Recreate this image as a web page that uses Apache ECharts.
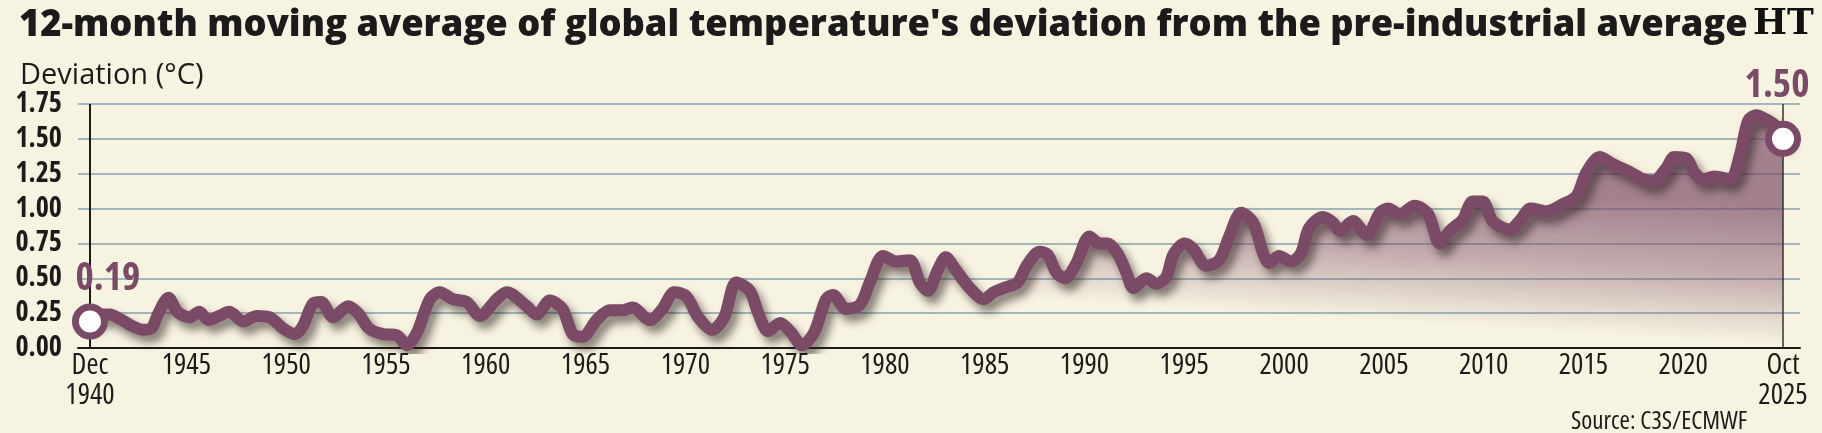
<!DOCTYPE html>
<html>
<head>
<meta charset="utf-8">
<title>Global temperature deviation</title>
<script src="https://cdn.jsdelivr.net/npm/echarts@6/dist/echarts.min.js"></script>
<style>
  html, body { margin: 0; padding: 0; background: #f6f3e0; }
  #main { width: 1822px; height: 433px; }
</style>
</head>
<body>
<div id="main"></div>
<script>
// 12-month moving average, deviation from pre-industrial (°C)
var years = [
  1940.92, 1941.45, 1941.92, 1942.4, 1943.0, 1943.6, 1944.0, 1944.35, 1944.85, 1945.3,
  1945.9, 1946.4, 1946.85, 1947.4, 1947.9, 1948.6, 1949.27, 1949.93, 1950.6, 1951.2,
  1951.6, 1952.1, 1952.5, 1953.1, 1953.85, 1954.35, 1954.9, 1955.6, 1956.3, 1956.8,
  1957.3, 1957.95, 1958.45, 1959.1, 1959.8, 1960.45, 1961.3, 1961.8, 1962.8, 1963.3,
  1963.96, 1964.6, 1965.1, 1965.6, 1966.3, 1966.97, 1967.6, 1968.1, 1968.97, 1969.6,
  1970.2, 1970.8, 1971.4, 1972.1, 1972.7, 1973.3, 1973.98, 1974.4, 1974.9, 1975.5,
  1976.0, 1976.6, 1977.2, 1977.8, 1978.15, 1978.8, 1979.5, 1979.99, 1980.66, 1981.3,
  1982.0, 1982.5, 1982.9, 1983.4, 1983.8, 1984.3, 1985.0, 1985.7, 1986.2, 1986.7,
  1987.4, 1987.85, 1988.5, 1988.9, 1989.35, 1989.76, 1990.35, 1991.0, 1991.5, 1991.9,
  1992.4, 1992.85, 1993.2, 1993.85, 1994.35, 1994.85, 1995.2, 1995.77, 1996.2, 1996.85,
  1997.5, 1998.0, 1998.6, 1999.2, 1999.7, 2000.0, 2000.5, 2001.1, 2001.6, 2002.0,
  2002.7, 2003.2, 2003.55, 2004.2, 2004.9, 2005.55, 2005.97, 2006.55, 2007.3, 2007.97,
  2008.55, 2009.05, 2009.7, 2010.2, 2010.7, 2011.2, 2012.05, 2012.6, 2013.1, 2013.9,
  2014.7, 2015.4, 2015.9, 2016.57, 2017.2, 2018.1, 2018.75, 2019.25, 2019.9, 2020.3,
  2020.9, 2021.3, 2021.75, 2022.3, 2023.1, 2023.6, 2024.0, 2024.4, 2024.9, 2025.4,
  2025.75
];
var anomaly = [
  0.19, 0.24, 0.24, 0.21, 0.16, 0.13, 0.14, 0.25, 0.36, 0.26,
  0.22, 0.26, 0.20, 0.23, 0.26, 0.19, 0.23, 0.22, 0.14, 0.10,
  0.16, 0.32, 0.33, 0.22, 0.30, 0.25, 0.14, 0.10, 0.09, 0.02,
  0.11, 0.35, 0.40, 0.35, 0.33, 0.23, 0.35, 0.40, 0.30, 0.24,
  0.34, 0.28, 0.10, 0.08, 0.20, 0.27, 0.27, 0.29, 0.20, 0.28,
  0.40, 0.37, 0.22, 0.13, 0.22, 0.47, 0.41, 0.25, 0.12, 0.18,
  0.12, 0.02, 0.11, 0.35, 0.38, 0.28, 0.31, 0.47, 0.66, 0.62,
  0.63, 0.47, 0.41, 0.56, 0.65, 0.56, 0.43, 0.35, 0.40, 0.43,
  0.47, 0.59, 0.69, 0.67, 0.54, 0.50, 0.61, 0.80, 0.75, 0.75,
  0.68, 0.54, 0.43, 0.50, 0.46, 0.51, 0.67, 0.75, 0.71, 0.59,
  0.63, 0.80, 0.97, 0.90, 0.68, 0.61, 0.66, 0.62, 0.68, 0.86,
  0.94, 0.90, 0.84, 0.91, 0.81, 0.97, 1.00, 0.96, 1.02, 0.96,
  0.75, 0.84, 0.92, 1.05, 1.05, 0.91, 0.85, 0.92, 1.00, 0.98,
  1.03, 1.09, 1.26, 1.37, 1.32, 1.26, 1.21, 1.20, 1.29, 1.37,
  1.36, 1.26, 1.21, 1.23, 1.21, 1.39, 1.63, 1.67, 1.64, 1.59,
  1.50
];

// x axis labels (the year labels sit a bit right of Jan)
var xTickPos = [1940.92, 1945.75, 1950.75, 1955.75, 1960.75, 1965.75, 1970.75, 1975.75,
  1980.75, 1985.75, 1990.75, 1995.75, 2000.75, 2005.75, 2010.75, 2015.75, 2020.75, 2025.75];
var xTickText = ['Dec\n1940', '1945', '1950', '1955', '1960', '1965', '1970', '1975',
  '1980', '1985', '1990', '1995', '2000', '2005', '2010', '2015', '2020', 'Oct\n2025'];

// Open Sans here is the variable one, so the width keyword gives a condensed cut
var FONT = '"Open Sans", sans-serif';
var PURPLE = '#7b4a67';
var INK = '#1c1a1a';

var first = 0;
var last = years.length - 1;
var lineData = years.map(function (y, i) { return [y, anomaly[i]]; });

var chart = echarts.init(document.getElementById('main'));

chart.setOption({
  backgroundColor: '#f6f3e0',
  animation: false,
  textStyle: { fontFamily: FONT },
  title: [
    {
      text: "12-month moving average of global temperature's deviation from the pre-industrial average",
      left: 14, top: 3,
      textStyle: { fontFamily: FONT, fontSize: 36.3, fontWeight: '800', color: INK }
    },
    {
      text: 'Deviation (°C)',
      left: 15, top: 56,
      textStyle: { fontFamily: FONT, fontSize: 29, fontWeight: 'normal', color: INK }
    },
    {
      text: 'HT',
      left: 1748, top: 2,
      textStyle: { fontFamily: '"DejaVu Serif", serif', fontSize: 36, fontWeight: 'bold', color: '#111' }
    },
    {
      text: 'Source: C3S/ECMWF',
      left: 1566, top: 404,
      textStyle: { fontFamily: FONT, fontSize: 25, fontWeight: 'condensed', color: INK }
    }
  ],
  grid: { left: 78, right: 22, top: 104, bottom: 85, outerBoundsMode: 'none' },
  xAxis: {
    type: 'value',
    min: 1940.32,
    max: 2026.6,
    splitLine: { show: false },
    axisTick: { show: false },
    axisLine: { show: true, lineStyle: { color: INK, width: 2 } },
    axisLabel: {
      customValues: xTickPos,
      margin: 3,
      fontSize: 29,
      lineHeight: 30,
      color: INK,
      fontFamily: FONT,
      fontWeight: 'condensed',
      formatter: function (v) {
        var best = 0;
        for (var i = 1; i < xTickPos.length; i++) {
          if (Math.abs(xTickPos[i] - v) < Math.abs(xTickPos[best] - v)) best = i;
        }
        return xTickText[best];
      }
    }
  },
  yAxis: {
    type: 'value',
    min: 0,
    max: 1.75,
    interval: 0.25,
    axisLine: { show: false },
    axisTick: { show: false },
    splitLine: { lineStyle: { color: '#a3b6ba', width: 2 } },
    axisLabel: {
      margin: 16,
      fontSize: 28,
      fontWeight: 'bold condensed',
      color: INK,
      fontFamily: FONT,
      formatter: function (v) { return v.toFixed(2); }
    }
  },
  series: [
    {
      type: 'line',
      data: lineData,
      smooth: 0.3,
      symbol: 'none',
      z: 3,
      lineStyle: {
        color: PURPLE,
        width: 12,
        cap: 'round',
        join: 'round',
        shadowColor: 'rgba(40,30,30,0.55)',
        shadowBlur: 8,
        shadowOffsetX: 5,
        shadowOffsetY: 7
      },
      areaStyle: {
        // fades out downwards and towards the left
        color: new echarts.graphic.LinearGradient(1, 0.99, 1.005, 0.40, [
          { offset: 0, color: 'rgba(123,74,103,0)' },
          { offset: 0.5, color: 'rgba(123,74,103,0.6)' },
          { offset: 1, color: 'rgba(123,74,103,0.97)' }
        ])
      },
      markLine: {
        silent: true,
        symbol: 'none',
        label: { show: false },
        data: [
          [
            { coord: [years[first], 0], lineStyle: { color: INK, width: 2, type: 'solid' } },
            { coord: [years[first], 1.75] }
          ],
          [
            { coord: [years[last], 0], lineStyle: { color: '#333', width: 1.5, type: 'solid' } },
            { coord: [years[last], 1.75] }
          ]
        ]
      }
    },
    {
      type: 'scatter',
      z: 5,
      symbol: 'circle',
      symbolSize: 29,
      itemStyle: { color: '#fff', borderColor: PURPLE, borderWidth: 7, opacity: 1 },
      label: {
        show: true,
        position: 'top',
        fontFamily: FONT,
        fontSize: 39,
        fontWeight: 'bold semi-condensed',
        color: PURPLE,
        formatter: function (p) { return p.value[1].toFixed(2); }
      },
      data: [
        { value: [years[first], anomaly[first]], label: { distance: 5, offset: [18, 0] } },
        { value: [years[last], anomaly[last]], label: { distance: 15, offset: [-6, 0] } }
      ]
    }
  ]
});
</script>
</body>
</html>
